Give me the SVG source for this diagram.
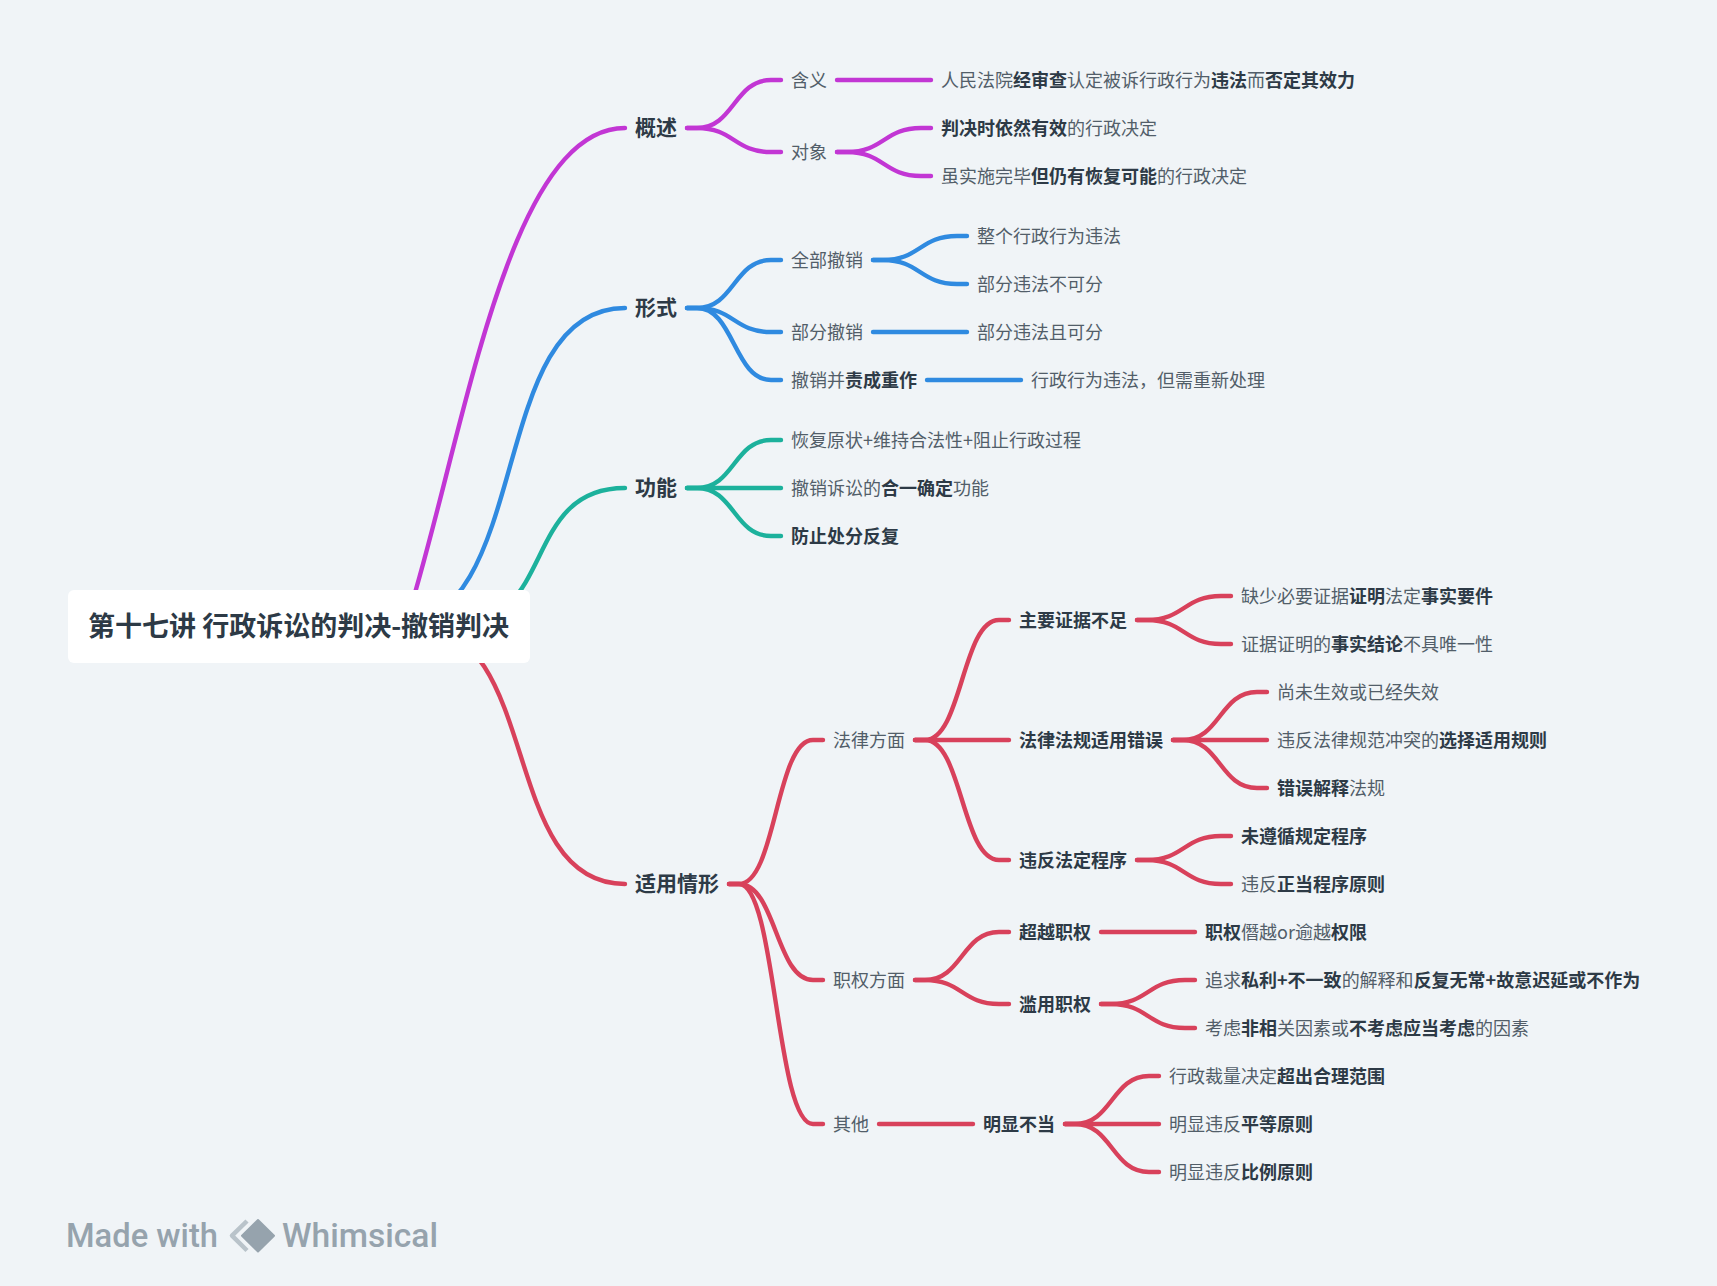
<svg xmlns="http://www.w3.org/2000/svg" width="1717" height="1286" viewBox="0 0 1717 1286">
<style>
text{font-family:"Noto Sans CJK SC","Noto Sans",sans-serif;font-size:18px;fill:#525e69;font-weight:400}
.b{font-weight:700;fill:#2d3a46}
.l1{font-size:21px;font-weight:700;fill:#2d3a46}
.root{font-size:27px;font-weight:700;fill:#2d3a46}
#connectors path{fill:none;stroke-width:4.4;stroke-linecap:round}
.p path{stroke:#c236d4}
.bl path{stroke:#2f8ae0}
.t path{stroke:#1cb19c}
.r path{stroke:#d8415b}
.wm{font-family:Roboto,"Liberation Sans",sans-serif;font-size:33px;font-weight:500;fill:#96a3ad}
</style>
<rect width="1717" height="1286" fill="#f0f4f7"/>
<g id="connectors">
<g class="p">
<path d="M405 626C462 450 505 128 625 128"/>
<path d="M687 128H697C734 128 734 80 771 80H781"/>
<path d="M687 128H697C734 128 734 152 771 152H781"/>
<path d="M837 80H931"/>
<path d="M837 152H847C884 152 884 128 921 128H931"/>
<path d="M837 152H847C884 152 884 176 921 176H931"/>
</g>
<g class="bl">
<path d="M393 626.5C536 626.5 484 308 625 308"/>
<path d="M687 308H697C734 308 734 260 771 260H781"/>
<path d="M687 308H697C734 308 734 332 771 332H781"/>
<path d="M687 308H697C734 308 734 380 771 380H781"/>
<path d="M873 260H883C920 260 920 236 957 236H967"/>
<path d="M873 260H883C920 260 920 284 957 284H967"/>
<path d="M873 332H967"/>
<path d="M927 380H1021"/>
</g>
<g class="t">
<path d="M451 626.5C558 626.5 520 488 625 488"/>
<path d="M687 488H697C734 488 734 440 771 440H781"/>
<path d="M687 488H781"/>
<path d="M687 488H697C734 488 734 536 771 536H781"/>
</g>
<g class="r">
<path d="M416 626.5C543 626.5 498 884 625 884"/>
<path d="M729 884H739C776 884 776 740 813 740H823"/>
<path d="M729 884H739C776 884 776 980 813 980H823"/>
<path d="M729 884H739C776 884 776 1124 813 1124H823"/>
<path d="M915 740H925C962 740 962 620 999 620H1009"/>
<path d="M915 740H1009"/>
<path d="M915 740H925C962 740 962 860 999 860H1009"/>
<path d="M1137 620H1147C1184 620 1184 596 1221 596H1231"/>
<path d="M1137 620H1147C1184 620 1184 644 1221 644H1231"/>
<path d="M1173 740H1183C1220 740 1220 692 1257 692H1267"/>
<path d="M1173 740H1267"/>
<path d="M1173 740H1183C1220 740 1220 788 1257 788H1267"/>
<path d="M1137 860H1147C1184 860 1184 836 1221 836H1231"/>
<path d="M1137 860H1147C1184 860 1184 884 1221 884H1231"/>
<path d="M915 980H925C962 980 962 932 999 932H1009"/>
<path d="M915 980H925C962 980 962 1004 999 1004H1009"/>
<path d="M1101 932H1195"/>
<path d="M1101 1004H1111C1148 1004 1148 980 1185 980H1195"/>
<path d="M1101 1004H1111C1148 1004 1148 1028 1185 1028H1195"/>
<path d="M879 1124H973"/>
<path d="M1065 1124H1075C1112 1124 1112 1076 1149 1076H1159"/>
<path d="M1065 1124H1159"/>
<path d="M1065 1124H1075C1112 1124 1112 1172 1149 1172H1159"/>
</g>
</g>
<g id="root"><rect x="68" y="590" width="462" height="73" rx="6" fill="#fff"/><text class="root" x="88" y="636">第十七讲 行政诉讼的判决-撤销判决</text></g>
<g id="n1"><text class="l1" x="635" y="134.8">概述</text></g>
<g id="n2"><text x="791" y="86.5">含义</text></g>
<g id="n3"><text x="941" y="86.5">人民法院<tspan class="b">经审查</tspan>认定被诉行政行为<tspan class="b">违法</tspan>而<tspan class="b">否定其效力</tspan></text></g>
<g id="n4"><text x="791" y="158.5">对象</text></g>
<g id="n5"><text x="941" y="134.5"><tspan class="b">判决时依然有效</tspan>的行政决定</text></g>
<g id="n6"><text x="941" y="182.5">虽实施完毕<tspan class="b">但仍有恢复可能</tspan>的行政决定</text></g>
<g id="n7"><text class="l1" x="635" y="314.8">形式</text></g>
<g id="n8"><text x="791" y="266.5">全部撤销</text></g>
<g id="n9"><text x="977" y="242.5">整个行政行为违法</text></g>
<g id="n10"><text x="977" y="290.5">部分违法不可分</text></g>
<g id="n11"><text x="791" y="338.5">部分撤销</text></g>
<g id="n12"><text x="977" y="338.5">部分违法且可分</text></g>
<g id="n13"><text x="791" y="386.5">撤销并<tspan class="b">责成重作</tspan></text></g>
<g id="n14"><text x="1031" y="386.5">行政行为违法，但需重新处理</text></g>
<g id="n15"><text class="l1" x="635" y="494.8">功能</text></g>
<g id="n16"><text x="791" y="446.5">恢复原状+维持合法性+阻止行政过程</text></g>
<g id="n17"><text x="791" y="494.5">撤销诉讼的<tspan class="b">合一确定</tspan>功能</text></g>
<g id="n18"><text class="b" x="791" y="542.5">防止处分反复</text></g>
<g id="n19"><text class="l1" x="635" y="890.8">适用情形</text></g>
<g id="n20"><text x="833" y="746.5">法律方面</text></g>
<g id="n21"><text class="b" x="1019" y="626.5">主要证据不足</text></g>
<g id="n22"><text x="1241" y="602.5">缺少必要证据<tspan class="b">证明</tspan>法定<tspan class="b">事实要件</tspan></text></g>
<g id="n23"><text x="1241" y="650.5">证据证明的<tspan class="b">事实结论</tspan>不具唯一性</text></g>
<g id="n24"><text class="b" x="1019" y="746.5">法律法规适用错误</text></g>
<g id="n25"><text x="1277" y="698.5">尚未生效或已经失效</text></g>
<g id="n26"><text x="1277" y="746.5">违反法律规范冲突的<tspan class="b">选择适用规则</tspan></text></g>
<g id="n27"><text x="1277" y="794.5"><tspan class="b">错误解释</tspan>法规</text></g>
<g id="n28"><text class="b" x="1019" y="866.5">违反法定程序</text></g>
<g id="n29"><text class="b" x="1241" y="842.5">未遵循规定程序</text></g>
<g id="n30"><text x="1241" y="890.5">违反<tspan class="b">正当程序原则</tspan></text></g>
<g id="n31"><text x="833" y="986.5">职权方面</text></g>
<g id="n32"><text class="b" x="1019" y="938.5">超越职权</text></g>
<g id="n33"><text x="1205" y="938.5"><tspan class="b">职权</tspan>僭越or逾越<tspan class="b">权限</tspan></text></g>
<g id="n34"><text class="b" x="1019" y="1010.5">滥用职权</text></g>
<g id="n35"><text x="1205" y="986.5">追求<tspan class="b">私利+不一致</tspan>的解释和<tspan class="b">反复无常+故意迟延或不作为</tspan></text></g>
<g id="n36"><text x="1205" y="1034.5">考虑<tspan class="b">非相</tspan>关因素或<tspan class="b">不考虑应当考虑</tspan>的因素</text></g>
<g id="n37"><text x="833" y="1130.5">其他</text></g>
<g id="n38"><text class="b" x="983" y="1130.5">明显不当</text></g>
<g id="n39"><text x="1169" y="1082.5">行政裁量决定<tspan class="b">超出合理范围</tspan></text></g>
<g id="n40"><text x="1169" y="1130.5">明显违反<tspan class="b">平等原则</tspan></text></g>
<g id="n41"><text x="1169" y="1178.5">明显违反<tspan class="b">比例原则</tspan></text></g>
<g id="watermark">
<text class="wm" x="66" y="1247" textLength="152" lengthAdjust="spacingAndGlyphs">Made with</text>
<path d="M247 1221L232 1235.7L247 1250.5" fill="none" stroke="#b9c3ca" stroke-width="4.5" stroke-linejoin="round"/>
<path d="M258 1220L274 1235.7L258 1251.5L242 1235.7Z" fill="#96a3ad" stroke="#96a3ad" stroke-width="2" stroke-linejoin="round"/>
<text class="wm" x="282" y="1247" textLength="156" lengthAdjust="spacingAndGlyphs">Whimsical</text>
</g>
</svg>
